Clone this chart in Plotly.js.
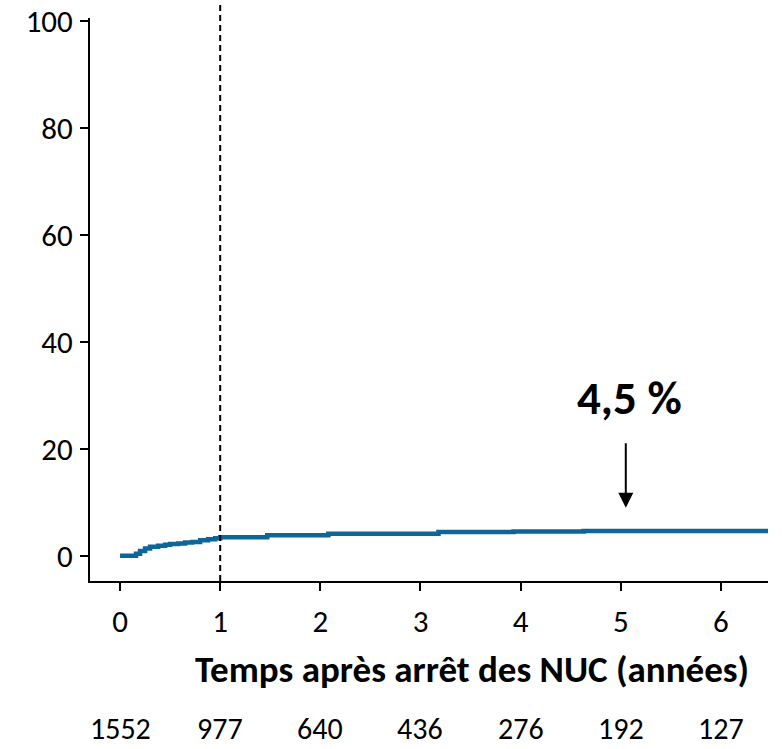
<!DOCTYPE html>
<html><head><meta charset="utf-8">
<script src="https://cdn.plot.ly/plotly-3.0.1.min.js"></script>
<style>html,body{margin:0;padding:0;background:#fff}</style>
</head><body>
<div id="chart" style="width:782px;height:749px"></div>
<script>
const times  = [0, 0.12, 0.16, 0.2, 0.25, 0.3, 0.38, 0.45, 0.5, 0.58, 0.65, 0.72, 0.8, 0.88, 0.95, 1.0, 1.47, 2.08, 3.18, 3.93, 4.63, 6.47];
const values = [0, 0, 0.4, 0.9, 1.4, 1.7, 1.9, 2.1, 2.2, 2.3, 2.5, 2.6, 2.9, 3.1, 3.3, 3.5, 3.85, 4.15, 4.45, 4.55, 4.65, 4.65];
const tickVals = [0, 1, 2, 3, 4, 5, 6];
const atRisk = ['1552', '977', '640', '436', '276', '192', '127'];
const finalLabel = '4,5 %';
const xTitle = 'Temps après arrêt des NUC (années)';
const FONT = 'Carlito, Lato, sans-serif';

const annotations = atRisk.map((t, i) => ({
  x: tickVals[i], xref: 'x', y: (581 - 728) / 563, yref: 'paper', yanchor: 'middle',
  text: t, showarrow: false, font: {family: FONT, size: 30, color: '#000'}
}));
annotations.push({
  x: (472 - 90) / 678, xref: 'paper', y: (581 - 669) / 563, yref: 'paper', yanchor: 'middle',
  text: '<b>' + xTitle + '</b>', showarrow: false,
  font: {family: FONT, size: 37, color: '#000'}
});
annotations.push({
  x: 5.09, y: 29.5, xref: 'x', yref: 'y', text: '<b>' + finalLabel + '</b>',
  showarrow: false, font: {family: FONT, size: 47, color: '#000'}
});
annotations.push({
  x: 5.05, y: 9.0, xref: 'x', yref: 'y', text: '', showarrow: true,
  ax: 0, ay: -66, arrowhead: 2, arrowsize: 1.5, arrowwidth: 2, arrowcolor: '#000'
});

const trace = {
  x: times, y: values, type: 'scatter', mode: 'lines',
  line: {shape: 'hv', color: '#0e6598', width: 4.5}, hoverinfo: 'none'
};

const layout = {
  width: 782, height: 749,
  margin: {l: 90, r: 14, t: 18, b: 168},
  paper_bgcolor: '#fff', plot_bgcolor: '#fff',
  showlegend: false,
  font: {family: FONT, color: '#000'},
  xaxis: {
    range: [-0.3, 6.47], tickvals: tickVals, ticktext: tickVals.map(String),
    showgrid: false, zeroline: false, showline: true, linecolor: '#000', linewidth: 2,
    ticks: 'outside', ticklen: 8, tickwidth: 2, tickcolor: '#000',
    tickfont: {family: FONT, size: 31, color: '#000'}, ticklabelstandoff: 4
  },
  yaxis: {
    range: [-4.7, 100.6], tickvals: [0, 20, 40, 60, 80, 100],
    showgrid: false, zeroline: false, showline: true, linecolor: '#000', linewidth: 2,
    ticks: 'outside', ticklen: 8, tickwidth: 2, tickcolor: '#000',
    tickfont: {family: FONT, size: 31, color: '#000'}, ticklabelstandoff: 1
  },
  shapes: [{
    type: 'line', xref: 'x', yref: 'paper', x0: 1, x1: 1, y0: 0, y1: 1 + 15 / 563,
    line: {color: '#000', width: 2, dash: '6px,4px'}
  }],
  annotations: annotations
};

Plotly.newPlot('chart', [trace], layout, {displayModeBar: false, staticPlot: true});
</script>
</body></html>
